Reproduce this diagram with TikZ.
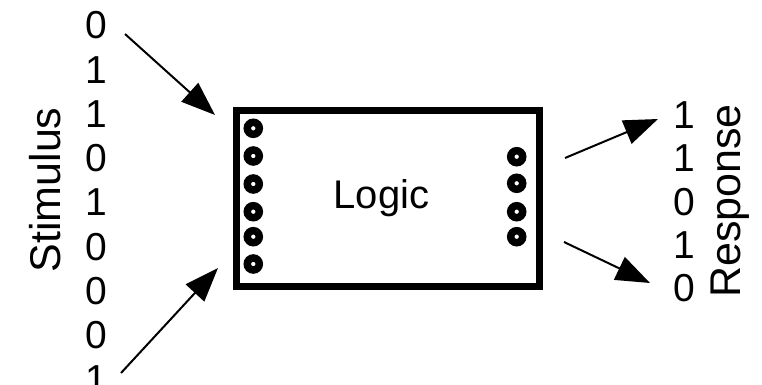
\documentclass[tikz,border=0pt]{standalone}
\usepackage{fontspec}
\setmainfont{Liberation Sans}
\usetikzlibrary{arrows.meta}
\begin{document}
\begin{tikzpicture}[x=1pt,y=-1pt,
  digit/.style={inner sep=0pt,anchor=base,font=\fontsize{39}{42}\selectfont},
  biglabel/.style={inner sep=0pt,anchor=base,rotate=90,font=\fontsize{43}{46}\selectfont},
  logictext/.style={inner sep=0pt,anchor=base,font=\fontsize{40}{44}\selectfont},
  pin/.style={circle,draw=black,fill=white,line width=7.5pt,minimum size=12pt,inner sep=0pt},
  frame/.style={draw=black,line width=7pt,minimum width=302.5pt,minimum height=175pt,inner sep=0pt},
  sig/.style={line width=2pt,-{Triangle[length=34pt,width=25pt]}}]
\useasboundingbox (0,0) rectangle (762,385);
% box
\node[frame] (logicbox) at (387.75,198.5) {};
\node[logictext] (logic) at (381.5,208.3) {Logic};
% pins
\foreach \y [count=\i] in {128.3,156,184,211.7,236.7,264}
  \node[pin] (inpin\i) at (253.3,\y) {};
\foreach \y [count=\i] in {156.7,183.3,211.7,236.7}
  \node[pin] (outpin\i) at (516.7,\y) {};
% stimulus digits
\foreach \d [count=\i] in {0,1,1,0,1,0,0,0,1}
  \node[digit] (stim\i) at (96.5,{39+44.2*(\i-1)}) {\d};
% response digits
\foreach \d [count=\i] in {1,1,0,1,0}
  \node[digit] (resp\i) at (684,{128.5+43.3*(\i-1)}) {\d};
% labels
\node[biglabel] (stimlabel) at (60,190) {Stimulus};
\node[biglabel] (resplabel) at (740,201) {Response};
% arrows
\coordinate (a1s) at (125,34);
\coordinate (a1e) at (215,115);
\coordinate (a2s) at (121,373);
\coordinate (a2e) at (218,268);
\coordinate (a3s) at (565,158);
\coordinate (a3e) at (658,119);
\coordinate (a4s) at (564,242);
\coordinate (a4e) at (650,283);
\draw[sig] (a1s) -- (a1e);
\draw[sig] (a2s) -- (a2e);
\draw[sig] (a3s) -- (a3e);
\draw[sig] (a4s) -- (a4e);
\end{tikzpicture}
\end{document}
